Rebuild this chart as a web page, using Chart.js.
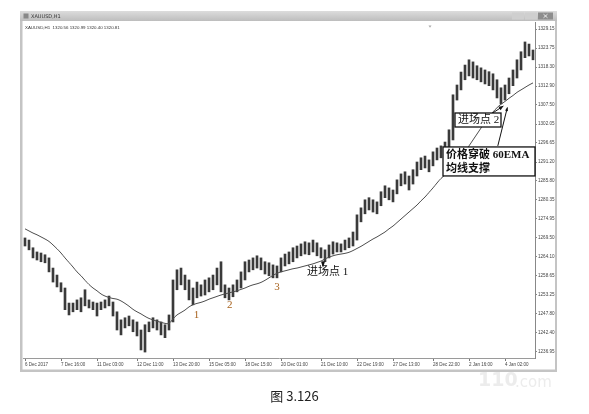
<!DOCTYPE html>
<html>
<head>
<meta charset="utf-8">
<style>
html, body { margin: 0; padding: 0; background: #fff; }
#wrap { position: relative; width: 589px; height: 414px; overflow: hidden; }
#gold-chart { position: absolute; left: 0; top: 0; }
#caption { position: absolute; left: 0; top: 386px; width: 589px; text-align: center;
  font: 13px "Noto Sans CJK SC", "Noto Sans", sans-serif; color: #222; }
</style>
</head>
<body>
<div id="wrap">
<canvas id="gold-chart" width="589" height="414"></canvas>
<div id="caption">图 3.126</div>
</div>
<script src="https://cdn.jsdelivr.net/npm/chart.js"></script>
<script>
// XAUUSD H1, each entry is a group of ~3-4 hourly bars (low / high)
var timeLabels = ['6 Dec 2017', '7 Dec 16:00', '11 Dec 03:00', '12 Dec 11:00', '13 Dec 20:00', '15 Dec 05:00',
	'18 Dec 15:00', '20 Dec 01:00', '21 Dec 10:00', '22 Dec 19:00', '27 Dec 13:00', '28 Dec 22:00',
	'2 Jan 16:00', '4 Jan 02:00'];
var timeLabelIndex = [0, 9, 18, 28, 37, 46, 55, 64, 74, 83, 92, 102, 111, 120];

var highs = [
	1269.5, 1268.9, 1266.7, 1265.5, 1265.2, 1264.7, 1263.8, 1260.9, 1258.9, 1256.7,
	1255.2, 1250.9, 1250.9, 1251.8, 1252.4, 1254.7, 1251.8, 1251.2, 1250.9, 1251.2,
	1251.8, 1252.9, 1251.2, 1248.4, 1246.1, 1246.7, 1247.2, 1246.1, 1245.5, 1243.2,
	1244.7, 1245.5, 1246.7, 1246.1, 1245.5, 1244.7, 1247.5, 1257.5, 1260.4, 1260.9,
	1258.9, 1257.5, 1255.2, 1256.9, 1256.1, 1257.5, 1258.1, 1258.9, 1260.9, 1262.7,
	1256.1, 1255.2, 1256.1, 1257.5, 1259.8, 1262.7, 1263.2, 1263.8, 1264.4, 1263.8,
	1262.7, 1262.4, 1261.8, 1261.5, 1263.8, 1264.9, 1265.5, 1266.7, 1267.2, 1267.8,
	1268.4, 1268.1, 1268.9, 1268.1, 1266.7, 1266.1, 1267.5, 1268.4, 1268.1, 1267.8,
	1268.9, 1269.5, 1271.2, 1276.1, 1278.1, 1280.4, 1281.0, 1280.4, 1279.8, 1282.7,
	1284.4, 1283.8, 1283.2, 1286.1, 1287.8, 1288.4, 1287.2, 1289.0, 1291.2, 1292.4,
	1292.9, 1291.8, 1294.1, 1295.2, 1295.8, 1296.9, 1300.4, 1310.4, 1313.2, 1316.9,
	1318.9, 1320.4, 1319.8, 1318.7, 1318.1, 1317.5, 1317.0, 1316.4, 1314.7, 1312.4,
	1313.2, 1315.2, 1317.5, 1320.4, 1322.7, 1325.5, 1324.9, 1323.2
];
var lows = [
	1267.2, 1266.1, 1263.8, 1263.2, 1262.7, 1262.4, 1259.8, 1256.9, 1255.5, 1254.1,
	1249.0, 1247.5, 1248.4, 1249.0, 1248.4, 1250.1, 1249.5, 1249.0, 1247.2, 1249.0,
	1249.5, 1250.1, 1247.2, 1243.2, 1241.8, 1243.8, 1244.4, 1242.7, 1241.5, 1237.5,
	1236.9, 1242.7, 1243.8, 1243.2, 1241.8, 1241.0, 1243.2, 1245.5, 1254.7, 1256.1,
	1254.7, 1251.8, 1250.4, 1252.4, 1252.9, 1253.2, 1254.1, 1254.7, 1256.1, 1254.1,
	1252.4, 1251.8, 1252.7, 1254.1, 1255.2, 1257.5, 1259.8, 1260.4, 1260.9, 1260.4,
	1259.2, 1258.7, 1258.1, 1258.1, 1259.8, 1261.5, 1262.1, 1262.7, 1263.8, 1264.4,
	1264.9, 1264.7, 1265.5, 1264.4, 1263.8, 1262.7, 1263.8, 1264.9, 1265.5, 1265.5,
	1266.1, 1266.7, 1267.2, 1268.9, 1274.1, 1276.4, 1277.5, 1276.9, 1276.4, 1278.7,
	1281.0, 1280.4, 1279.8, 1282.1, 1284.4, 1284.9, 1283.2, 1284.9, 1287.2, 1289.0,
	1289.5, 1288.4, 1290.1, 1291.8, 1292.4, 1292.9, 1294.7, 1297.5, 1308.9, 1311.8,
	1314.7, 1315.8, 1315.2, 1314.7, 1314.1, 1313.5, 1313.0, 1311.8, 1309.5, 1307.8,
	1308.9, 1310.7, 1313.0, 1315.2, 1317.5, 1321.0, 1321.5, 1320.4
];
var ema60 = [
	1272.1, 1271.5, 1270.9, 1270.4, 1269.8, 1269.2, 1268.5, 1267.5, 1266.4, 1265.2,
	1263.8, 1262.5, 1261.2, 1259.8, 1258.7, 1257.4, 1256.2, 1255.2, 1254.4, 1253.5,
	1252.9, 1252.5, 1252.2, 1252.0, 1251.5, 1250.8, 1250.0, 1249.1, 1248.4, 1247.8,
	1247.1, 1246.5, 1246.1, 1245.7, 1245.4, 1245.1, 1245.1, 1246.4, 1247.5, 1248.2,
	1248.9, 1249.8, 1250.4, 1250.8, 1251.1, 1251.5, 1252.0, 1252.4, 1252.8, 1253.2,
	1253.5, 1253.8, 1254.1, 1254.4, 1254.8, 1255.2, 1255.7, 1256.1, 1256.4, 1256.8,
	1257.4, 1258.1, 1258.8, 1259.4, 1259.8, 1260.1, 1260.4, 1260.7, 1260.9, 1261.2,
	1261.5, 1261.8, 1262.1, 1262.5, 1262.9, 1263.5, 1264.0, 1264.4, 1264.7, 1264.9,
	1265.1, 1265.4, 1265.9, 1266.5, 1267.1, 1267.8, 1268.5, 1269.2, 1269.8, 1270.5,
	1271.2, 1272.1, 1272.9, 1273.9, 1274.9, 1275.9, 1276.9, 1277.9, 1278.9, 1280.1,
	1281.2, 1282.5, 1283.8, 1285.2, 1286.5, 1287.5, 1288.7, 1289.8, 1291.2, 1292.7,
	1294.1, 1295.8, 1297.5, 1299.2, 1300.9, 1302.7, 1304.1, 1305.5, 1306.7, 1307.7,
	1308.5, 1309.4, 1310.2, 1311.1, 1311.8, 1312.5, 1313.2, 1313.8
];
var priceTicks = [1236.95, 1242.40, 1247.80, 1253.25, 1258.65, 1264.10, 1269.50, 1274.95, 1280.35,
	1285.80, 1291.20, 1296.65, 1302.05, 1307.50, 1312.90, 1318.30, 1323.75, 1329.15];

var xLabels = highs.map(function () { return ''; });
for (let i = 0; i < timeLabels.length; i++) {
	xLabels[timeLabelIndex[i]] = timeLabels[i];
}

// window frame of the MT4 chart
var windowFrame = {
	id: 'windowFrame',
	beforeDraw: function (chart) {
		var c = chart.ctx;
		c.save();
		c.fillStyle = '#fff';
		c.fillRect(0, 0, 589, 414);
		var g = c.createLinearGradient(0, 11, 0, 21);
		g.addColorStop(0, '#dcdcdc');
		g.addColorStop(1, '#bdbdbd');
		c.fillStyle = g;
		c.fillRect(20, 11, 537, 10);
		c.fillStyle = '#c4c4c4';
		c.fillRect(20, 21, 2.5, 351);
		c.fillRect(555, 21, 2, 351);
		c.fillRect(20, 369.5, 537, 2.5);
		// title bar
		c.fillStyle = '#888';
		c.fillRect(23.5, 13.5, 5, 5);
		c.fillStyle = '#333';
		c.font = '5px "DejaVu Sans"';
		c.textBaseline = 'middle';
		c.fillText('XAUUSD,H1', 31, 16.3);
		c.fillStyle = '#cfcfcf';
		c.fillRect(512, 12.5, 12, 7);
		c.fillRect(525, 12.5, 12, 7);
		c.fillStyle = '#8d8d8d';
		c.fillRect(538, 12.5, 15, 7);
		c.strokeStyle = '#fff';
		c.lineWidth = 0.8;
		c.beginPath();
		c.moveTo(543.5, 14.2); c.lineTo(547.5, 17.8);
		c.moveTo(547.5, 14.2); c.lineTo(543.5, 17.8);
		c.stroke();
		// info line
		c.fillStyle = '#333';
		c.font = '4.4px "Liberation Sans"';
		c.fillText('XAUUSD,H1  1320.56 1320.99 1320.40 1320.81', 25, 27.8);
		c.fillStyle = '#aaa';
		c.beginPath();
		c.moveTo(428.5, 25.5); c.lineTo(431.5, 25.5); c.lineTo(430, 27.8);
		c.fill();
		// watermark
		c.fillStyle = '#ececec';
		c.font = 'bold 19px "DejaVu Sans"';
		c.fillText('110', 478, 381);
		c.font = '15px "DejaVu Sans"';
		c.fillText('.com', 515, 383);
		c.restore();
	}
};

function arrowTo(c, x0, y0, x1, y1, head) {
	c.beginPath();
	c.moveTo(x0, y0);
	c.lineTo(x1, y1);
	c.stroke();
	var a = Math.atan2(y1 - y0, x1 - x0);
	c.beginPath();
	c.moveTo(x1, y1);
	c.lineTo(x1 - head * Math.cos(a - 0.4), y1 - head * Math.sin(a - 0.4));
	c.lineTo(x1 - head * Math.cos(a + 0.4), y1 - head * Math.sin(a + 0.4));
	c.closePath();
	c.fill();
}

// notes written on the picture
var notes = {
	id: 'notes',
	afterDatasetsDraw: function (chart) {
		var c = chart.ctx;
		var xs = chart.scales.x, ys = chart.scales.y;
		var px = function (i) { return xs.getPixelForValue(i); };
		var py = function (v) { return ys.getPixelForValue(v); };
		c.save();
		c.textBaseline = 'middle';
		c.font = '11px "Liberation Serif", "Noto Sans CJK SC"';
		c.fillStyle = '#a8631f';
		c.fillText('1', px(42.2), py(1247.5));
		c.fillText('2', px(50.5), py(1250.4));
		c.fillText('3', px(62.3), py(1255.5));
		c.fillStyle = '#111';
		c.fillText('进场点 1', px(70.5), py(1259.8));
		// entry 1 marker
		c.beginPath();
		c.moveTo(px(74.5), py(1261.0));
		c.lineTo(px(74.5) - 2, py(1262.8));
		c.lineTo(px(74.5) + 2, py(1262.8));
		c.closePath();
		c.fill();
		c.fillRect(px(74.5) - 0.6, py(1262.8), 1.2, 2.5);

		c.strokeStyle = '#111';
		c.fillStyle = '#111';
		c.lineWidth = 1;
		// arrows to the EMA touch
		arrowTo(c, px(116.5), py(1304.9), px(119.6), py(1307.2), 5);
		arrowTo(c, px(118.2), py(1295.8), px(120.6), py(1306.8), 4);

		// entry 2 box
		var bx = px(107.5), by = py(1305.2);
		c.fillStyle = '#fff';
		c.fillRect(bx, by, 46, 14);
		c.lineWidth = 1.3;
		c.strokeRect(bx, by, 46, 14);
		c.fillStyle = '#111';
		c.font = '11px "Liberation Serif", "Noto Sans CJK SC"';
		c.fillText('进场点 2', bx + 3, by + 7.5);

		// EMA support box
		var ex = px(104.5), ey = py(1295.5);
		c.fillStyle = '#fff';
		c.fillRect(ex, ey, 92, 29);
		c.strokeRect(ex, ey, 92, 29);
		c.fillStyle = '#111';
		c.font = 'bold 11px "Liberation Serif", "Noto Sans CJK SC"';
		c.fillText('价格穿破 60EMA', ex + 3, ey + 8);
		c.fillText('均线支撑', ex + 3, ey + 22);
		c.restore();
	}
};

const goldChart = document.getElementById('gold-chart');
new Chart(goldChart, {
	type: 'bar',
	data: {
		labels: xLabels,
		datasets: [{
			type: 'line',
			label: 'EMA 60',
			data: ema60,
			borderColor: '#4d4d4d',
			borderWidth: 1,
			pointRadius: 0,
			tension: 0.4
		}, {
			label: 'XAUUSD,H1',
			data: lows.map(function (l, i) { return [l, highs[i]]; }),
			backgroundColor: '#3a3a3a',
			barThickness: 2,
			grouped: false
		}]
	},
	options: {
		responsive: false,
		animation: false,
		devicePixelRatio: 1,
		layout: { padding: { left: 23, top: 22, right: 34, bottom: 46 } },
		plugins: {
			legend: { display: false },
			tooltip: { enabled: false },
			title: { display: false }
		},
		scales: {
			x: {
				offset: true,
				grid: {
					offset: false,
					drawOnChartArea: false,
					tickLength: 3,
					color: function (ctx) { return xLabels[ctx.index] ? '#777' : 'rgba(0,0,0,0)'; }
				},
				border: { display: true, color: '#9a9a9a' },
				ticks: {
					autoSkip: false,
					maxRotation: 0,
					minRotation: 0,
					align: 'start',
					padding: 1,
					color: '#444',
					font: { family: 'Liberation Sans', size: 4.5 },
					callback: function (v, i) { return xLabels[i]; }
				},
				afterFit: function (s) { s.height = 10; }
			},
			y: {
				position: 'right',
				min: 1235.2,
				max: 1331.2,
				grid: { drawOnChartArea: false, tickLength: 2, color: '#888' },
				border: { display: true, color: '#888' },
				afterBuildTicks: function (s) {
					s.ticks = priceTicks.map(function (v) { return { value: v }; });
				},
				ticks: {
					padding: 1,
					color: '#444',
					font: { family: 'Liberation Sans', size: 4.6 },
					callback: function (v) { return Number(v).toFixed(2); }
				},
				afterFit: function (s) { s.width = 20; }
			}
		}
	},
	plugins: [windowFrame, notes]
});
</script>
</body>
</html>
